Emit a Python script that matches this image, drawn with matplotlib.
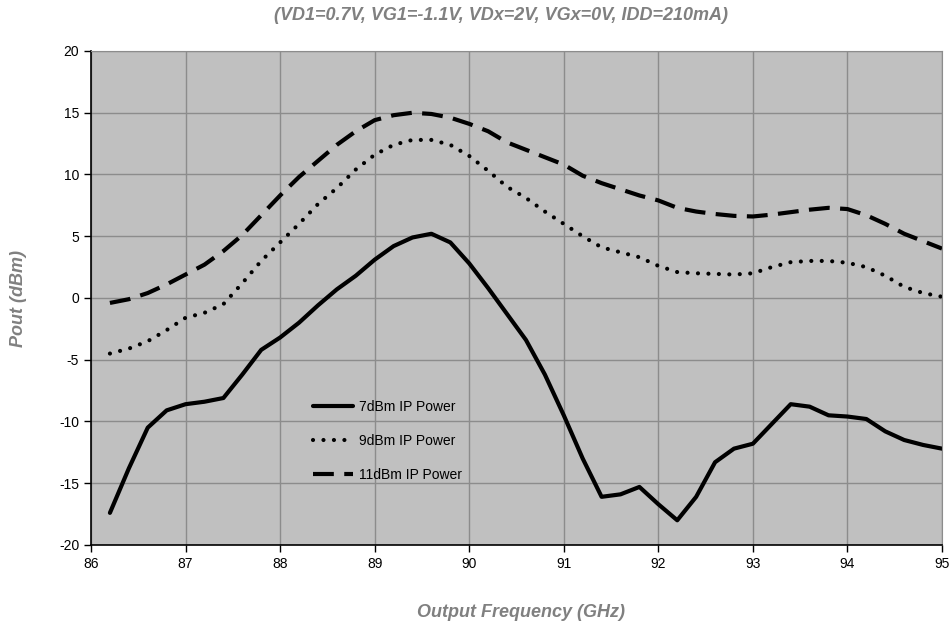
import numpy as np
import matplotlib.pyplot as plt

# --- Data ---
freq_ghz = [86.2, 86.4, 86.6, 86.8, 87.0, 87.2, 87.4, 87.6, 87.8, 88.0,
            88.2, 88.4, 88.6, 88.8, 89.0, 89.2, 89.4, 89.6, 89.8, 90.0,
            90.2, 90.4, 90.6, 90.8, 91.0, 91.2, 91.4, 91.6, 91.8, 92.0,
            92.2, 92.4, 92.6, 92.8, 93.0, 93.2, 93.4, 93.6, 93.8, 94.0,
            94.2, 94.4, 94.6, 94.8, 95.0]

pout_7dbm = [-17.4, -13.8, -10.5, -9.1, -8.6, -8.4, -8.1, -6.2, -4.2, -3.2,
             -2.0, -0.6, 0.7, 1.8, 3.1, 4.2, 4.9, 5.2, 4.5, 2.8,
             0.8, -1.3, -3.4, -6.2, -9.5, -13.0, -16.1, -15.9, -15.3, -16.7,
             -18.0, -16.1, -13.3, -12.2, -11.8, -10.2, -8.6, -8.8, -9.5, -9.6,
             -9.8, -10.8, -11.5, -11.9, -12.2]

pout_9dbm = [-4.5, -4.1, -3.5, -2.6, -1.6, -1.2, -0.5, 1.2, 3.0, 4.5,
             6.0, 7.6, 8.9, 10.4, 11.6, 12.4, 12.8, 12.8, 12.4, 11.5,
             10.3, 9.0, 8.1, 7.0, 6.0, 5.0, 4.1, 3.7, 3.3, 2.6,
             2.1, 2.0, 1.95, 1.9, 2.0, 2.5, 2.9, 3.0, 3.0, 2.85,
             2.5, 1.8, 0.9, 0.4, 0.1]

pout_11dbm = [-0.4, -0.1, 0.4, 1.1, 1.9, 2.7, 3.8, 5.1, 6.7, 8.3,
              9.8, 11.1, 12.4, 13.5, 14.4, 14.8, 15.0, 14.9, 14.6, 14.1,
              13.5, 12.6, 12.0, 11.4, 10.8, 9.9, 9.3, 8.8, 8.3, 7.9,
              7.3, 7.0, 6.8, 6.65, 6.6, 6.75, 6.95, 7.15, 7.3, 7.2,
              6.7, 6.0, 5.2, 4.6, 4.0]

series_labels = ['7dBm IP Power', '9dBm IP Power', '11dBm IP Power']
x_ticks = [86, 87, 88, 89, 90, 91, 92, 93, 94, 95]
y_ticks = [-20, -15, -10, -5, 0, 5, 10, 15, 20]

title_text = '(VD1=0.7V, VG1=-1.1V, VDx=2V, VGx=0V, IDD=210mA)'
x_label = 'Output Frequency (GHz)'
y_label = 'Pout (dBm)'

# --- Plot ---
plt.rcParams['font.family'] = ['Liberation Sans', 'DejaVu Sans']
plt.rcParams['axes.unicode_minus'] = False

fig = plt.figure(figsize=(9.52, 6.28), dpi=100)
ax = fig.add_axes([0.0956, 0.1322, 0.8939, 0.7866])
ax.set_facecolor('#c0c0c0')

lw = 3.0
ax.plot(freq_ghz, pout_7dbm, color='black', lw=lw, solid_capstyle='round',
        solid_joinstyle='round', label=series_labels[0])
ax.plot(freq_ghz, pout_9dbm, color='black', lw=lw, linestyle=(0, (0.01, 2.5)),
        dash_capstyle='round', label=series_labels[1])
ax.plot(freq_ghz, pout_11dbm, color='black', lw=lw, linestyle=(0, (5, 2.5)),
        dash_capstyle='butt', label=series_labels[2])

ax.set_xlim(86, 95)
ax.set_ylim(-20, 20)
ax.set_xticks(x_ticks)
ax.set_yticks(y_ticks)
ax.tick_params(direction='out', length=5, width=1, labelsize=10, colors='black')
ax.grid(True, color='#8c8c8c', linewidth=1)
ax.set_axisbelow(True)

for side in ['top', 'right']:
    ax.spines[side].set_color('#8c8c8c')
for side in ['left', 'bottom']:
    ax.spines[side].set_color('black')
    ax.spines[side].set_linewidth(1.2)

# legend sits inside the plot area, no frame
leg = ax.legend(loc='upper left', bbox_to_anchor=(0.246, 0.319), frameon=False,
                fontsize=10, handlelength=2.9, labelspacing=1.45, handletextpad=0.4)

fig.text(0.526, 0.976, title_text, ha='center', va='center', fontsize=13,
         color='#808080', fontweight='bold', fontstyle='italic')
fig.text(0.547, 0.025, x_label, ha='center', va='center', fontsize=13,
         color='#808080', fontweight='bold', fontstyle='italic')
fig.text(0.019, 0.525, y_label, ha='center', va='center', fontsize=13,
         color='#808080', fontweight='bold', fontstyle='italic', rotation=90)

plt.savefig('out.png', dpi=100)
plt.close()
